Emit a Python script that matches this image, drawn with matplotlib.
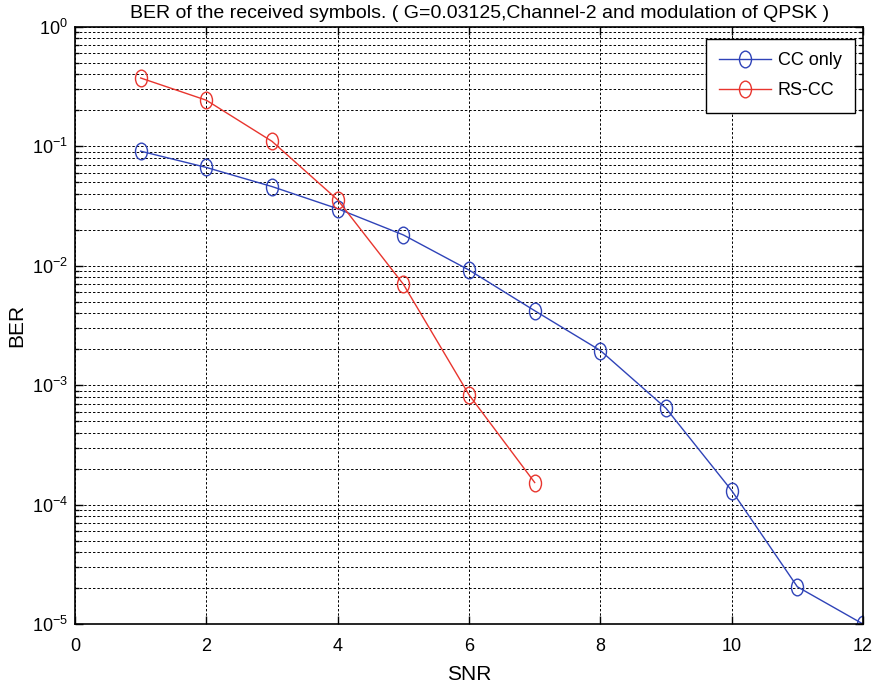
import numpy as np
import matplotlib
matplotlib.use("Agg")
import matplotlib.pyplot as plt
from matplotlib.path import Path
from matplotlib.ticker import LogLocator, FixedLocator, NullFormatter, FuncFormatter

plt.rcParams['font.family'] = ['Liberation Sans', 'DejaVu Sans']
plt.rcParams['mathtext.fontset'] = 'custom'
plt.rcParams['mathtext.rm'] = 'Liberation Sans'
plt.rcParams['mathtext.it'] = 'Liberation Sans:italic'
plt.rcParams['mathtext.bf'] = 'Liberation Sans:bold'

snr_cc = [1, 2, 3, 4, 5, 6, 7, 8, 9, 10, 11, 12]
ber_cc = [0.091, 0.0665, 0.046, 0.0300, 0.0181, 0.0092, 0.0042, 0.00195, 0.00064, 0.000131, 2.05e-5, 1.0e-5]
snr_rs = [1, 2, 3, 4, 5, 6, 7]
ber_rs = [0.373, 0.243, 0.110, 0.0356, 0.0070, 0.00083, 0.000153]
x_ticks = [0, 2, 4, 6, 8, 10, 12]

circ = Path.unit_circle()
ell = Path(circ.vertices * np.array([0.72, 1.0]), circ.codes)

fig = plt.figure(figsize=(8.82, 6.88), dpi=100)
ax = fig.add_axes([0.085, 0.093, 0.8935, 0.868])

ax.semilogy(snr_cc, ber_cc, color='#2f43b8', lw=1.0, marker=ell, ms=12,
            mfc='none', mec='#2f43b8', mew=1.0, label='CC only')
ax.semilogy(snr_rs, ber_rs, color='#e8352e', lw=1.0, marker=ell, ms=12,
            mfc='none', mec='#e8352e', mew=1.0, label='RS-CC')

ax.set_xlim(0, 12)
ax.set_ylim(1e-5, 1)
ax.xaxis.set_major_locator(FixedLocator(x_ticks))
ax.yaxis.set_major_locator(LogLocator(base=10, numticks=10))
ax.yaxis.set_minor_locator(LogLocator(base=10, subs=np.arange(2, 10), numticks=20))
ax.yaxis.set_minor_formatter(NullFormatter())
ax.yaxis.set_major_formatter(FuncFormatter(
    lambda v, p: r'$\mathregular{10^{%d}}$' % int(round(np.log10(v)))))

gstyle = dict(color='black', linestyle=(0, (2.5, 2)), linewidth=0.7)
ax.grid(True, which='major', axis='both', **gstyle)
ax.grid(True, which='minor', axis='y', **gstyle)

ax.tick_params(which='both', direction='in', top=True, right=True, labelsize=13, width=1.0)
ax.tick_params(which='major', length=6)
ax.tick_params(which='minor', length=3)
ax.tick_params(axis='x', pad=10)
ax.tick_params(axis='y', pad=5)
for s in ax.spines.values():
    s.set_linewidth(1.2)

ax.set_xlabel('SNR', fontsize=15, labelpad=7)
ax.set_ylabel('BER', fontsize=15, labelpad=4)
ax.set_title('BER of the received symbols. ( G=0.03125,Channel-2 and modulation of QPSK )',
             fontsize=14, pad=6, x=0.513)

leg = ax.legend(loc='upper right', fontsize=13, fancybox=False, framealpha=1,
                edgecolor='black', borderpad=0.75, labelspacing=0.72, handlelength=2.85,
                handletextpad=0.4, borderaxespad=0,
                bbox_to_anchor=(0.99, 0.98))
leg.get_frame().set_linewidth(1.0)

fig.savefig('out.png', dpi=100)
